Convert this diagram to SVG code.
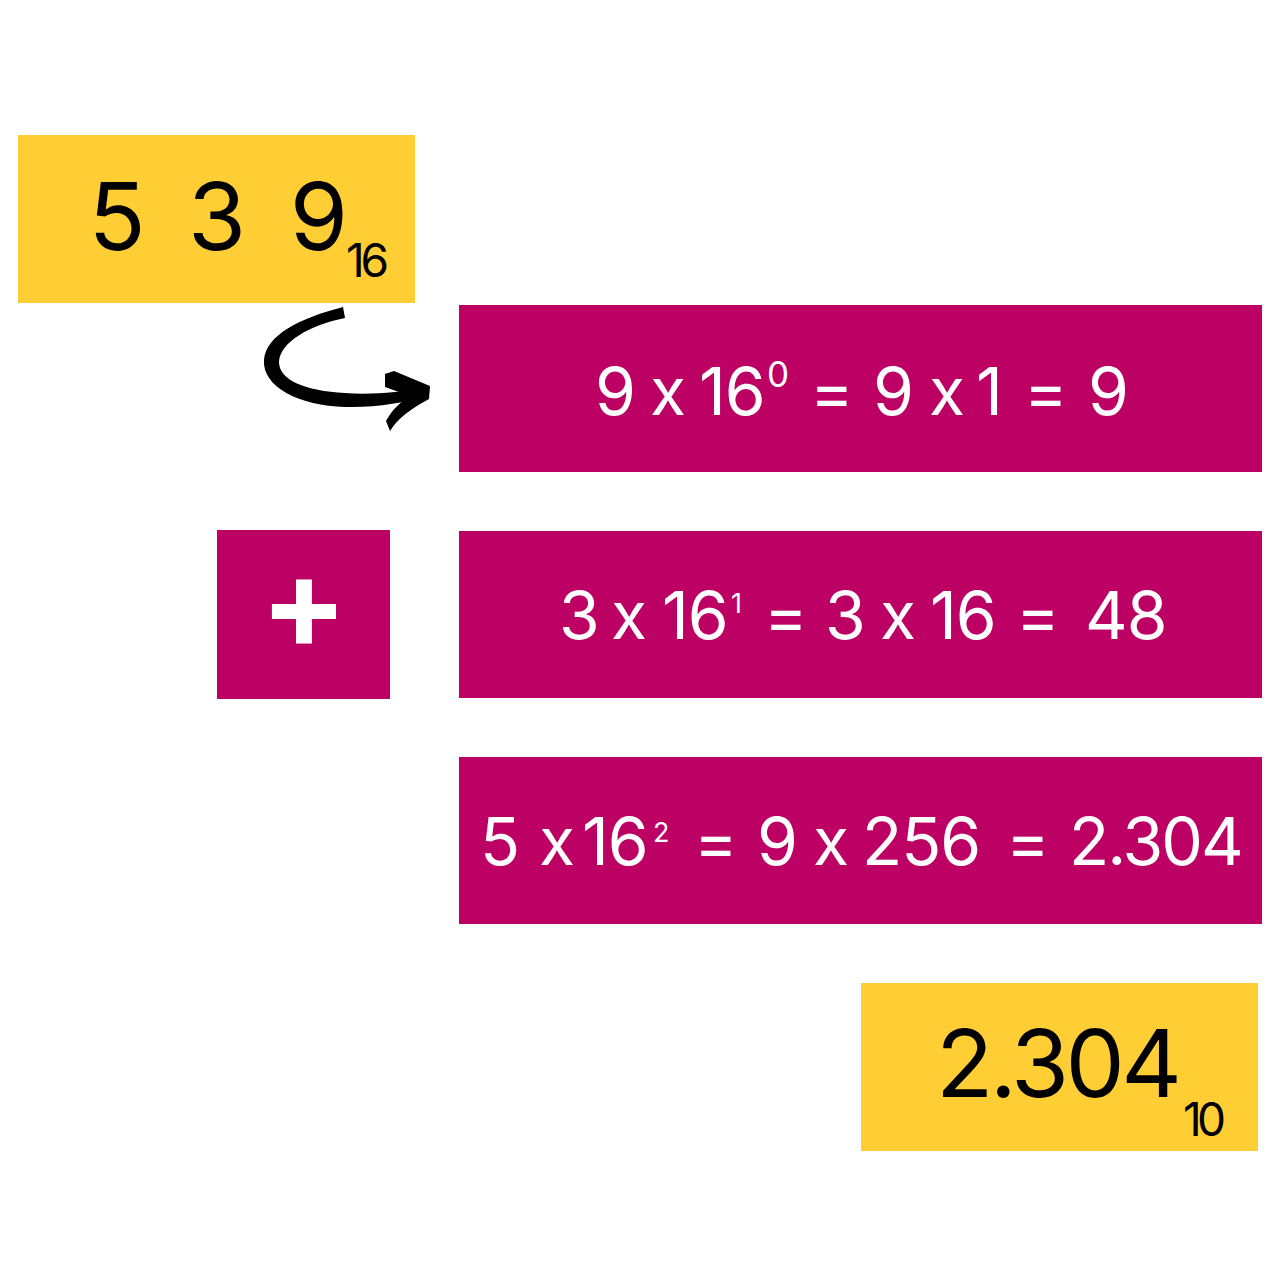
<svg xmlns="http://www.w3.org/2000/svg" width="1280" height="1280" viewBox="0 0 1280 1280">
  <style>
    .yellow { fill: #FFCE34; }
    .magenta { fill: #BD0064; }
    .dark { fill: #000000; font-family: Inter, "Liberation Sans", sans-serif; font-feature-settings: "calt" 0; }
    .light { fill: #FFFFFF; font-family: Inter, "Liberation Sans", sans-serif; font-feature-settings: "calt" 0; }
    .big { font-size: 94px; }
    .mid { font-size: 66px; }
    .sub { font-size: 46px; }
  </style>
  <rect width="1280" height="1280" fill="#FFFFFF"/>

  <g id="hex-number">
    <rect class="yellow" x="18" y="135" width="397" height="168"/>
    <text class="dark big" x="117" y="250" text-anchor="middle">5</text>
    <text class="dark big" x="217" y="250" text-anchor="middle">3</text>
    <text class="dark big" x="319" y="250" text-anchor="middle">9</text>
    <text class="dark sub" x="346" y="277" textLength="43" lengthAdjust="spacing">16</text>
  </g>

  <g id="term-0">
    <rect class="magenta" x="459" y="305" width="803" height="167"/>
    <text class="light mid" y="415"><tspan x="595">9</tspan> <tspan x="650">x</tspan> <tspan x="699" letter-spacing="-1">16</tspan><tspan x="767" y="387" font-size="35">0</tspan> <tspan x="810" y="415">=</tspan> <tspan x="873">9</tspan> <tspan x="929">x</tspan> <tspan x="976">1</tspan> <tspan x="1024">=</tspan> <tspan x="1088">9</tspan></text>
  </g>

  <g id="plus">
    <rect class="magenta" x="217" y="530" width="173" height="169"/>
    <text class="light" x="304" y="649" font-size="128" font-weight="bold" text-anchor="middle">+</text>
  </g>

  <g id="term-1">
    <rect class="magenta" x="459" y="531" width="803" height="167"/>
    <text class="light mid" y="639"><tspan x="559">3</tspan> <tspan x="611">x</tspan> <tspan x="662" letter-spacing="-1">16</tspan><tspan x="731" y="613" font-size="27">1</tspan> <tspan x="764" y="639">=</tspan> <tspan x="825">3</tspan> <tspan x="880">x</tspan> <tspan x="930" letter-spacing="-1">16</tspan> <tspan x="1016">=</tspan> <tspan x="1085" letter-spacing="-1">48</tspan></text>
  </g>

  <g id="term-2">
    <rect class="magenta" x="459" y="757" width="803" height="167"/>
    <text class="light mid" y="865"><tspan x="480">5</tspan> <tspan x="539">x</tspan> <tspan x="582" letter-spacing="-1">16</tspan><tspan x="653" y="842" font-size="27">2</tspan> <tspan x="694" y="865">=</tspan> <tspan x="757">9</tspan> <tspan x="813">x</tspan> <tspan x="862" letter-spacing="-1">256</tspan> <tspan x="1006">=</tspan> <tspan x="1069" letter-spacing="-2">2.304</tspan></text>
  </g>

  <g id="result">
    <rect class="yellow" x="861" y="983" width="397" height="168"/>
    <text class="dark big" x="936" y="1097" textLength="246" lengthAdjust="spacing">2.304</text>
    <text class="dark sub" x="1183" y="1136" textLength="43" lengthAdjust="spacing">10</text>
  </g>

  <g id="connectors">
    <path fill="#000000" d="M 343,307 C 300,318 266,335 264,360 C 262,387 300,406 345,407 C 375,408 405,402 428,397 L 426,388 C 400,392 372,395 345,393 C 305,391 279,380 279,362 C 280,342 310,325 345,318 Z"/>
    <path fill="#000000" d="M 385,374 L 394,371 L 430,386 L 429,399 C 412,408 398,418 390,431 L 386,421 C 392,410 400,402 410,396 L 385,387 Z"/>
  </g>
</svg>
